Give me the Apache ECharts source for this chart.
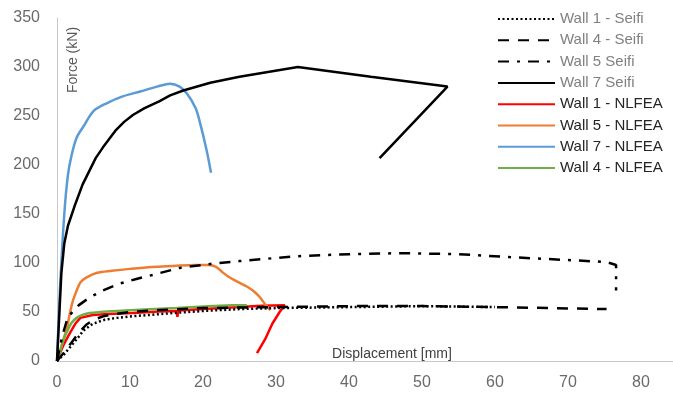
<!DOCTYPE html>
<html>
<head>
<meta charset="utf-8">
<script src="https://cdn.jsdelivr.net/npm/echarts@6/dist/echarts.min.js"></script>
<style>
  html, body { margin: 0; padding: 0; background: #fff; }
  #chart { width: 673px; height: 397px; }
</style>
</head>
<body>
<div id="chart"></div>
<script>
// Force–displacement curves: [displacement mm, force kN]
const wall1Seifi = [[0,0],[1,7],[2,16],[3,25],[3.6,31],[4.9,38],[6.5,42],[8.2,44],[10,45.5],[12.7,47],[16,49],[20,51],[25,53],[30,54],[40,55],[50,56],[60,55]];
const wall4Seifi = [[0,0],[1,9],[2,19],[3,29],[4,37],[5,42],[6.5,46],[8,48],[10,50],[14,52],[20,54],[30,55],[40,56],[50,56],[60,55],[75.3,53]];
const wall5Seifi = [[0,0],[0.7,25],[1.5,45],[3,57],[4.5,65],[6.3,72],[8.6,79],[11,84],[13.2,88],[16.8,95],[21,99],[25,102],[33,107],[40,109],[47,110],[55,109],[62,106],[70,103],[75.3,101],[76.6,98],[76.6,72]];
const wall7Seifi = [[0,0],[0.3,45],[0.6,90],[1,120],[1.5,138],[2,149],[2.5,160],[3.5,180],[4.5,195],[5.3,207],[6.3,218],[7.2,227],[8,235],[9.2,244],[10.4,251],[12,258],[14,265],[15.5,271],[17.3,276],[21,284],[25,290],[33,300],[43,290],[53.5,280],[44.2,207]];
const wall1Nlfea = [[0,0],[0.4,8],[1,18],[1.8,29],[2.5,38],[3.2,44],[4.9,47],[7,48],[10.4,49],[14,50.5],[16.4,51],[16.5,45],[16.6,51.5],[20,53],[25,55],[28,56.5],[31.2,57],[30.5,50],[29.5,38],[28.5,22],[27.4,8]];
const wall5Nlfea = [[0,0],[0.5,12],[1,25],[1.4,35],[1.8,50],[2.2,62],[2.7,72],[3.2,80],[4,85],[5.5,90],[7.5,92],[10,94],[13,96],[15.9,97],[19,98],[20.8,98],[21.8,96],[22.6,91],[23.5,86],[24.7,81],[26,76],[27,71],[27.8,65],[28.5,58],[29.2,52]];
const wall7Nlfea = [[0,0],[0.4,72],[1,150],[1.5,190],[2,210],[2.7,228],[3.6,239],[5,255],[6.8,263],[9,270],[11.4,275],[13.7,280],[15.5,283],[16.8,280],[17.8,273],[19,258],[19.6,243],[20.5,215],[21.1,192]];
const wall4Nlfea = [[0,0],[0.5,12],[1,24],[1.5,32],[2,39],[2.7,44],[3.5,47],[4.5,49],[6,50],[8.2,51],[12,52.5],[16.4,54],[21.4,56],[24,57],[26,57]];

const legendNames = ['Wall 1 - Seifi','Wall 4 - Seifi','Wall 5 Seifi','Wall 7 Seifi','Wall 1 - NLFEA','Wall 5 - NLFEA','Wall 7 - NLFEA','Wall 4 - NLFEA'];

const FONT = "'Liberation Sans', Arial, sans-serif";

function lineSeries(name, data, color, type, z, smooth) {
  return {
    name: name,
    type: 'line',
    data: data,
    symbol: 'none',
    smooth: smooth || false,
    z: z,
    lineStyle: { color: color, width: 2.5, type: type, cap: 'butt' },
    itemStyle: { color: color }
  };
}

const chart = echarts.init(document.getElementById('chart'), null, { renderer: 'canvas' });
chart.setOption({
  animation: false,
  backgroundColor: '#ffffff',
  grid: { left: 57, top: 18, right: 0, bottom: 36, containLabel: false },
  xAxis: {
    type: 'value', min: 0, max: 84.4, interval: 10,
    axisLine: { show: true, lineStyle: { color: '#c8c8c8', width: 1 } },
    axisTick: { show: false },
    splitLine: { show: false },
    axisLabel: { color: '#6a6a6a', fontSize: 16, fontFamily: FONT, margin: 14, showMaxLabel: false }
  },
  yAxis: {
    type: 'value', min: 0, max: 350, interval: 50,
    axisLine: { show: true, lineStyle: { color: '#c8c8c8', width: 1 } },
    axisTick: { show: false },
    splitLine: { show: false },
    axisLabel: { color: '#6a6a6a', fontSize: 16, fontFamily: FONT, margin: 17 }
  },
  legend: {
    orient: 'vertical',
    left: 492,
    top: 6,
    itemWidth: 57,
    itemHeight: 14,
    itemGap: 5.3,
    itemStyle: { opacity: 0 },
    data: legendNames.map(function (n, i) {
      return { name: n, textStyle: { color: i < 4 ? '#808080' : '#262626' } };
    }),
    textStyle: { fontSize: 15, fontFamily: FONT, lineHeight: 16, padding: [0, 0, 0, 0] }
  },
  graphic: [
    {
      type: 'text', x: 73, y: 60, rotation: Math.PI / 2,
      style: { text: 'Force (kN)', font: "14px " + FONT, fill: '#595959', align: 'center', verticalAlign: 'middle' }
    },
    {
      type: 'text', x: 392, y: 354,
      style: { text: 'Displacement [mm]', font: "14px " + FONT, fill: '#404040', align: 'center', verticalAlign: 'middle' }
    }
  ],
  series: [
    lineSeries('Wall 1 - NLFEA', wall1Nlfea, '#ff0000', 'solid', 2),
    lineSeries('Wall 5 - NLFEA', wall5Nlfea, '#ed7d31', 'solid', 2, 0.3),
    lineSeries('Wall 7 - NLFEA', wall7Nlfea, '#5b9bd5', 'solid', 2, 0.3),
    lineSeries('Wall 4 - NLFEA', wall4Nlfea, '#70ad47', 'solid', 2, 0.3),
    lineSeries('Wall 1 - Seifi', wall1Seifi, '#000000', [2, 2.5], 3),
    lineSeries('Wall 4 - Seifi', wall4Seifi, '#000000', [11, 9], 3),
    lineSeries('Wall 5 Seifi', wall5Seifi, '#000000', [11, 8, 3, 8], 3),
    lineSeries('Wall 7 Seifi', wall7Seifi, '#000000', 'solid', 3)
  ]
});
</script>
</body>
</html>
